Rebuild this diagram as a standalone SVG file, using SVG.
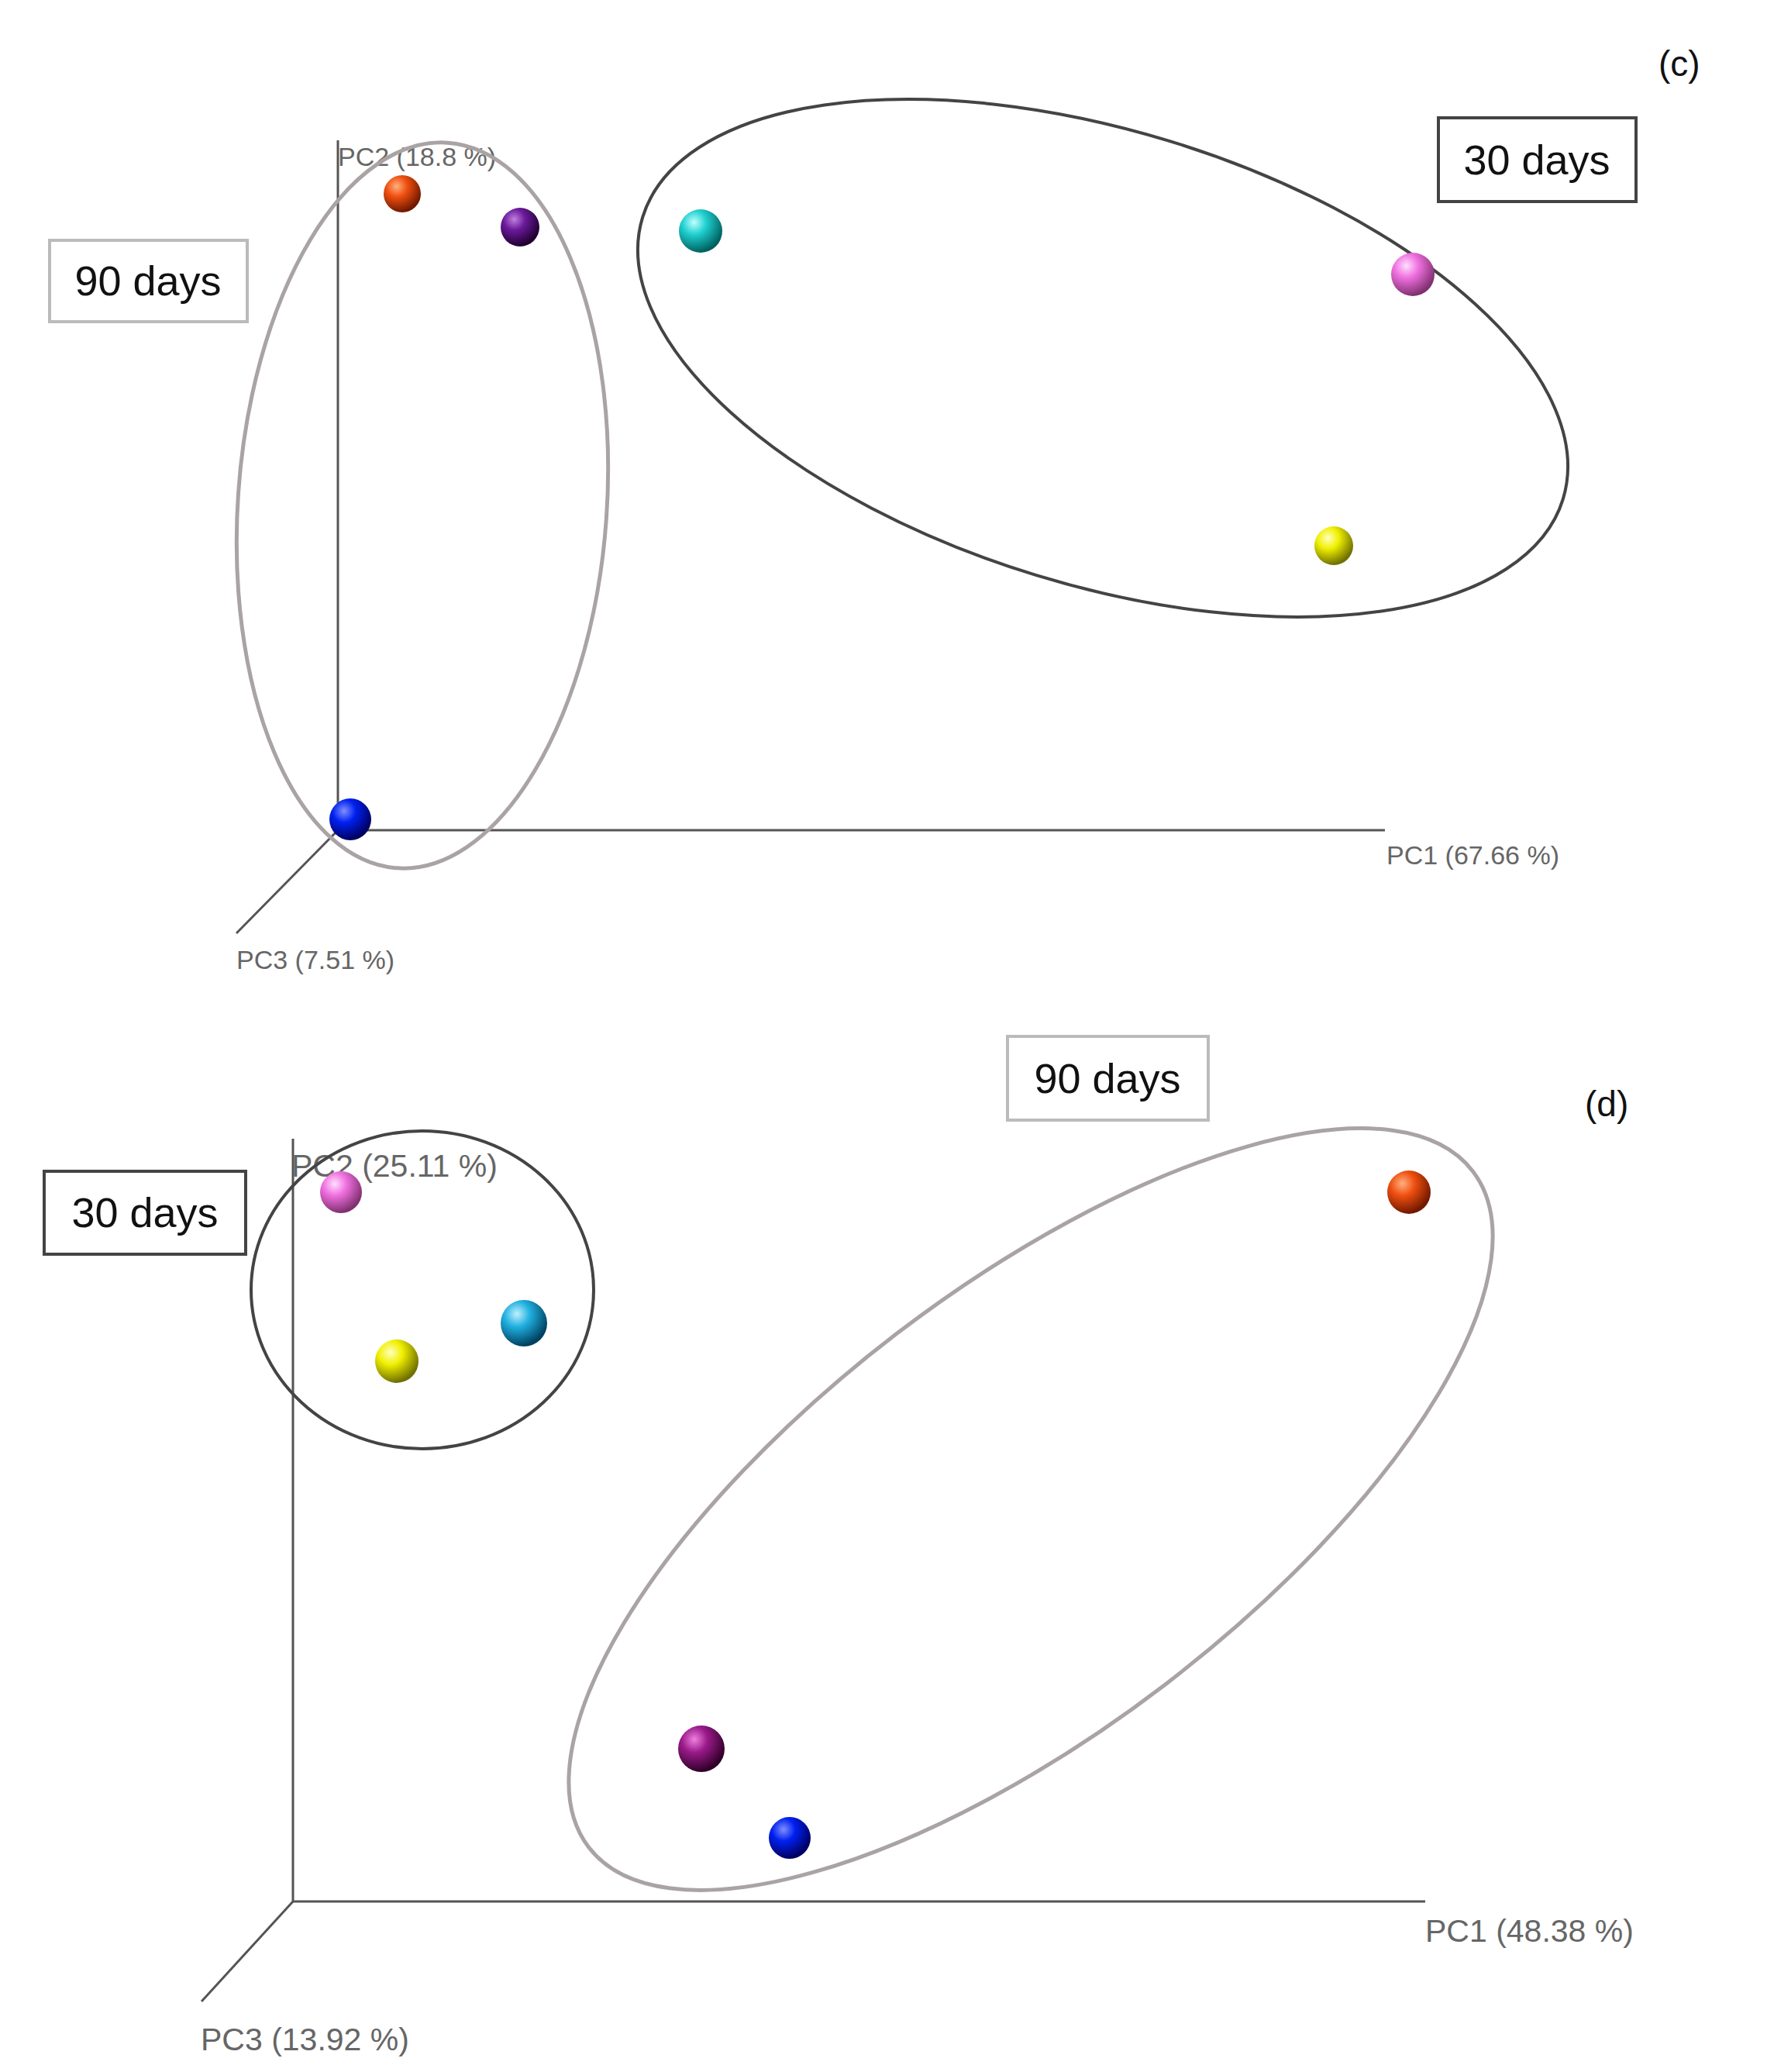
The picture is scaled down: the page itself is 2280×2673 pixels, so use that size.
<svg xmlns="http://www.w3.org/2000/svg" width="2280" height="2673" viewBox="0 0 2280 2673">
<style>
.ax{stroke:#555;stroke-width:3;fill:none}
.lbl{font-family:"Liberation Sans",Arial,sans-serif;fill:#666}
.box{fill:#fff;stroke-width:4}
.bt{font-family:"Liberation Sans",Arial,sans-serif;font-size:54px;fill:#111;text-anchor:middle}
.pan{font-family:"Liberation Sans",Arial,sans-serif;font-size:46px;fill:#111}
</style>
<defs>
<radialGradient id="gO" cx="0.35" cy="0.3" r="0.7"><stop offset="0" stop-color="#ffb080"/><stop offset="0.4" stop-color="#f05010"/><stop offset="1" stop-color="#701800"/></radialGradient>
<radialGradient id="gP" cx="0.35" cy="0.3" r="0.7"><stop offset="0" stop-color="#c080e0"/><stop offset="0.4" stop-color="#6a1a9a"/><stop offset="1" stop-color="#200030"/></radialGradient>
<radialGradient id="gC" cx="0.35" cy="0.3" r="0.7"><stop offset="0" stop-color="#c0ffff"/><stop offset="0.4" stop-color="#20d0d0"/><stop offset="1" stop-color="#006060"/></radialGradient>
<radialGradient id="gK" cx="0.35" cy="0.3" r="0.7"><stop offset="0" stop-color="#ffe0ff"/><stop offset="0.4" stop-color="#f070e0"/><stop offset="1" stop-color="#803070"/></radialGradient>
<radialGradient id="gY" cx="0.35" cy="0.3" r="0.7"><stop offset="0" stop-color="#ffffc0"/><stop offset="0.4" stop-color="#f0f000"/><stop offset="1" stop-color="#707000"/></radialGradient>
<radialGradient id="gB" cx="0.35" cy="0.3" r="0.7"><stop offset="0" stop-color="#8090ff"/><stop offset="0.4" stop-color="#0020f0"/><stop offset="1" stop-color="#000060"/></radialGradient>
<radialGradient id="gM" cx="0.35" cy="0.3" r="0.7"><stop offset="0" stop-color="#f080e0"/><stop offset="0.4" stop-color="#9a1a8a"/><stop offset="1" stop-color="#300028"/></radialGradient>
<radialGradient id="gC2" cx="0.35" cy="0.3" r="0.7"><stop offset="0" stop-color="#c0f0ff"/><stop offset="0.4" stop-color="#20b0e0"/><stop offset="1" stop-color="#004060"/></radialGradient>
</defs>
<rect width="2280" height="2673" fill="#fff"/>
<g id="panel-c">
<text class="pan" x="2140" y="98">(c)</text>
<g id="axes-c">
<line class="ax" x1="436" y1="181" x2="436" y2="1071"/>
<line class="ax" x1="436" y1="1071" x2="1787" y2="1071"/>
<line class="ax" x1="436" y1="1071" x2="305" y2="1204"/>
<text class="lbl" font-size="34" x="436" y="214">PC2 (18.8 %)</text>
<text class="lbl" font-size="34" x="1789" y="1115">PC1 (67.66 %)</text>
<text class="lbl" font-size="34" x="305" y="1250">PC3 (7.51 %)</text>
</g>
<ellipse id="ell-c90" cx="545" cy="652" rx="238" ry="469" transform="rotate(4 545 652)" fill="none" stroke="#aaa3a3" stroke-width="5"/>
<ellipse id="ell-c30" cx="1423" cy="462" rx="621" ry="293" transform="rotate(17 1423 462)" fill="none" stroke="#444" stroke-width="4"/>
<g id="box-c90"><rect class="box" stroke="#bbb" x="64" y="310" width="255" height="105"/><text class="bt" x="191" y="381">90 days</text></g>
<g id="box-c30"><rect class="box" stroke="#444" x="1856" y="152" width="255" height="108"/><text class="bt" x="1983" y="225">30 days</text></g>
<circle cx="519" cy="250" r="24" fill="url(#gO)"/>
<circle cx="671" cy="293" r="25" fill="url(#gP)"/>
<circle cx="904" cy="298" r="28" fill="url(#gC)"/>
<circle cx="1823" cy="354" r="28" fill="url(#gK)"/>
<circle cx="1721" cy="704" r="25" fill="url(#gY)"/>
<circle cx="452" cy="1057" r="27" fill="url(#gB)"/>
</g>
<g id="panel-d">
<text class="pan" x="2045" y="1440">(d)</text>
<g id="axes-d">
<line class="ax" x1="378" y1="1469" x2="378" y2="2453"/>
<line class="ax" x1="378" y1="2453" x2="1839" y2="2453"/>
<line class="ax" x1="378" y1="2453" x2="260" y2="2582"/>
<text class="lbl" font-size="41" x="376" y="1518">PC2 (25.11 %)</text>
<text class="lbl" font-size="41" x="1839" y="2505">PC1 (48.38 %)</text>
<text class="lbl" font-size="41" x="259" y="2645">PC3 (13.92 %)</text>
</g>
<ellipse id="ell-d30" cx="545" cy="1664" rx="221" ry="205" fill="none" stroke="#444" stroke-width="4"/>
<ellipse id="ell-d90" cx="1330" cy="1947" rx="718" ry="285" transform="rotate(-37.4 1330 1947)" fill="none" stroke="#aaa3a3" stroke-width="5"/>
<g id="box-d90"><rect class="box" stroke="#bbb" x="1300" y="1337" width="259" height="108"/><text class="bt" x="1429" y="1410">90 days</text></g>
<g id="box-d30"><rect class="box" stroke="#444" x="57" y="1511" width="260" height="107"/><text class="bt" x="187" y="1583">30 days</text></g>
<circle cx="440" cy="1538" r="27" fill="url(#gK)"/>
<circle cx="676" cy="1707" r="30" fill="url(#gC2)"/>
<circle cx="512" cy="1756" r="28" fill="url(#gY)"/>
<circle cx="1818" cy="1538" r="28" fill="url(#gO)"/>
<circle cx="905" cy="2256" r="30" fill="url(#gM)"/>
<circle cx="1019" cy="2371" r="27" fill="url(#gB)"/>
</g>
</svg>
